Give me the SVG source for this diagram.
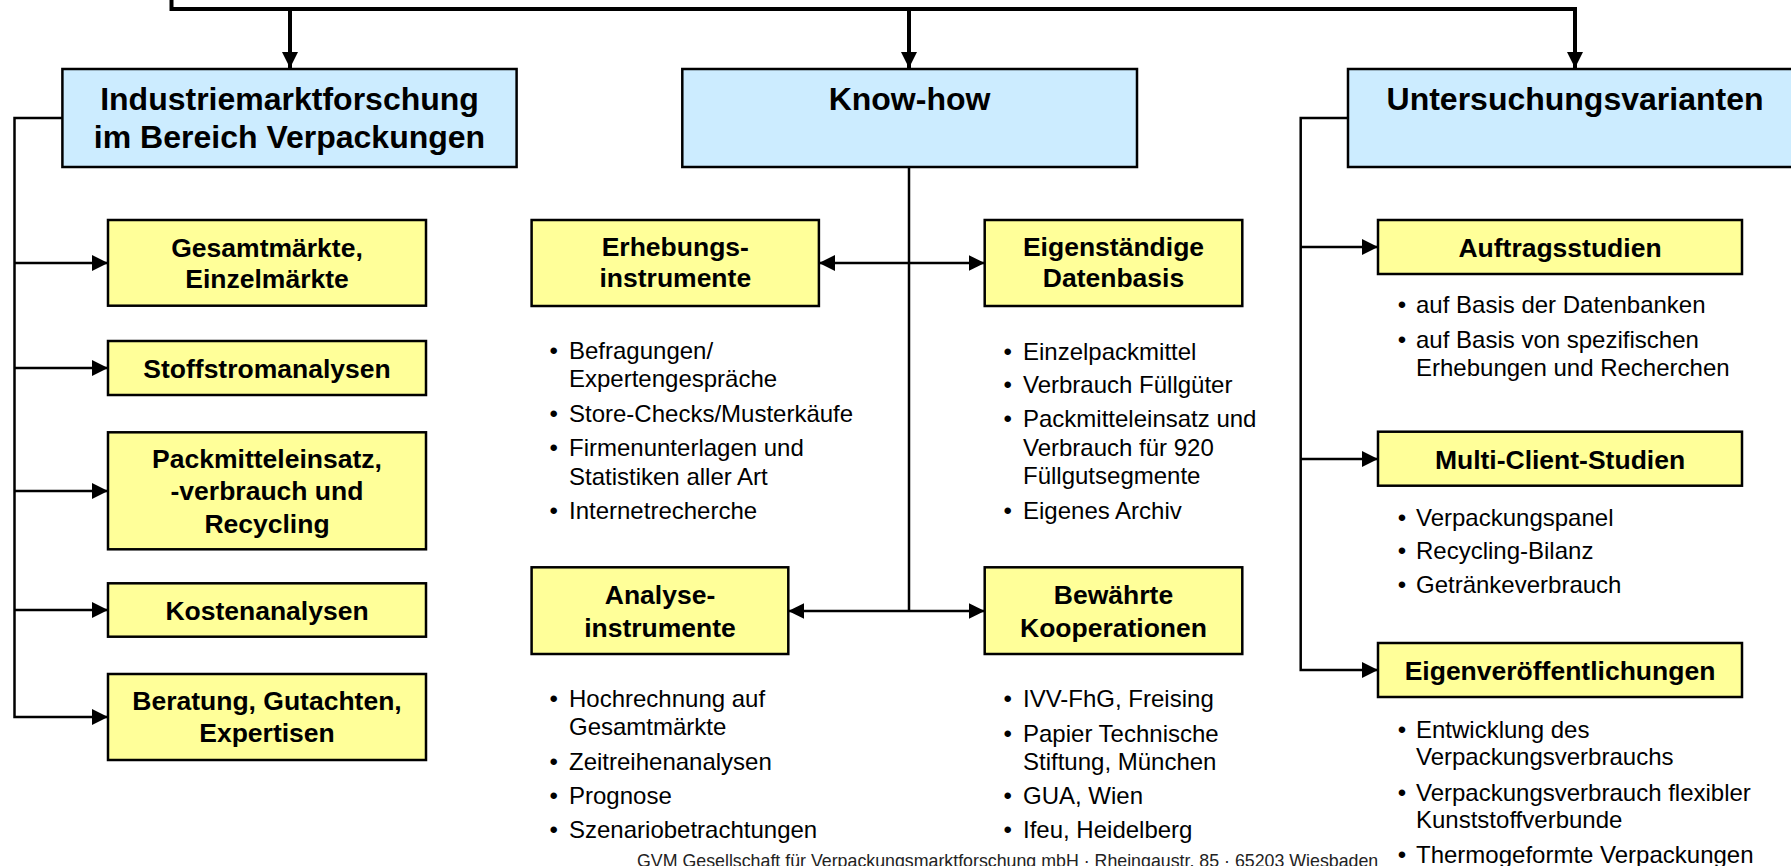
<svg xmlns="http://www.w3.org/2000/svg" width="1791" height="866" viewBox="0 0 1791 866">
<style>
text{font-family:"Liberation Sans",Arial,Helvetica,sans-serif;fill:#000}
.t{font-size:32px;font-weight:bold;text-anchor:middle}
.y{font-size:26.5px;font-weight:bold;text-anchor:middle}
.b{font-size:24px}
.d{font-size:24px;text-anchor:middle}
.f{font-size:17.8px;fill:#222}
.blue{fill:#CCECFF;stroke:#000;stroke-width:2.5}
.yel{fill:#FFFF99;stroke:#000;stroke-width:2.5}
.thick{fill:none;stroke:#000;stroke-width:4}
.thin{fill:none;stroke:#000;stroke-width:2.5}
</style>
<defs>
<marker id="ah" viewBox="0 0 16 16" refX="16" refY="8" markerWidth="16" markerHeight="16" markerUnits="userSpaceOnUse" orient="auto-start-reverse">
<path d="M0,0 L16,8 L0,16 z" fill="#000"/>
</marker>
</defs>
<rect width="1791" height="866" fill="#fff"/>
<g id="connectors">
<path class="thick" d="M171.5,0 V9 H1575 V68" marker-end="url(#ah)"/>
<path class="thick" d="M290,9 V68" marker-end="url(#ah)"/>
<path class="thick" d="M909,9 V68" marker-end="url(#ah)"/>
<path class="thin" d="M62,118 H14.5 V717 H108" marker-end="url(#ah)"/>
<path class="thin" d="M14.5,263 H108" marker-end="url(#ah)"/>
<path class="thin" d="M14.5,368 H108" marker-end="url(#ah)"/>
<path class="thin" d="M14.5,491 H108" marker-end="url(#ah)"/>
<path class="thin" d="M14.5,610 H108" marker-end="url(#ah)"/>
<path class="thin" d="M909,167 V611"/>
<path class="thin" d="M819,263 H984.7" marker-start="url(#ah)" marker-end="url(#ah)"/>
<path class="thin" d="M788.3,611 H984.7" marker-start="url(#ah)" marker-end="url(#ah)"/>
<path class="thin" d="M1348,118 H1300.7 V670 H1378" marker-end="url(#ah)"/>
<path class="thin" d="M1300.7,247 H1378" marker-end="url(#ah)"/>
<path class="thin" d="M1300.7,459 H1378" marker-end="url(#ah)"/>
</g>
<g id="n-industrie">
<rect class="blue" x="62.4" y="69" width="454.2" height="98"/>
<text class="t" x="289.5" y="110">Industriemarktforschung</text>
<text class="t" x="289.5" y="148">im Bereich Verpackungen</text>
</g>
<g id="n-knowhow">
<rect class="blue" x="682.3" y="69" width="454.7" height="98"/>
<text class="t" x="909.5" y="110">Know-how</text>
</g>
<g id="n-untersuchung">
<rect class="blue" x="1348" y="69" width="460" height="98"/>
<text class="t" x="1575" y="110">Untersuchungsvarianten</text>
</g>
<g id="n-gesamt">
<rect class="yel" x="108" y="220" width="318" height="85.7"/>
<text class="y" x="267" y="256.7">Gesamtmärkte,</text>
<text class="y" x="267" y="288.3">Einzelmärkte</text>
</g>
<g id="n-stoff">
<rect class="yel" x="108" y="341" width="318" height="54"/>
<text class="y" x="267" y="378.3">Stoffstromanalysen</text>
</g>
<g id="n-pack">
<rect class="yel" x="108" y="432.3" width="318" height="117"/>
<text class="y" x="267" y="468.3">Packmitteleinsatz,</text>
<text class="y" x="267" y="500">-verbrauch und</text>
<text class="y" x="267" y="533.3">Recycling</text>
</g>
<g id="n-kosten">
<rect class="yel" x="108" y="583.3" width="318" height="53.4"/>
<text class="y" x="267" y="620">Kostenanalysen</text>
</g>
<g id="n-beratung">
<rect class="yel" x="108" y="674" width="318" height="86"/>
<text class="y" x="267" y="710">Beratung, Gutachten,</text>
<text class="y" x="267" y="741.7">Expertisen</text>
</g>
<g id="n-erhebung">
<rect class="yel" x="531.6" y="220" width="287.3" height="86"/>
<text class="y" x="675.3" y="256">Erhebungs-</text>
<text class="y" x="675.3" y="287.3">instrumente</text>
<text class="d" x="553.6" y="359">•</text><text class="b" x="569" y="359">Befragungen/</text>
<text class="b" x="569" y="387">Expertengespräche</text>
<text class="d" x="553.6" y="422">•</text><text class="b" x="569" y="422">Store-Checks/Musterkäufe</text>
<text class="d" x="553.6" y="456">•</text><text class="b" x="569" y="456">Firmenunterlagen und</text>
<text class="b" x="569" y="485">Statistiken aller Art</text>
<text class="d" x="553.6" y="519">•</text><text class="b" x="569" y="519">Internetrecherche</text>
</g>
<g id="n-eigen">
<rect class="yel" x="984.7" y="220" width="257.6" height="86"/>
<text class="y" x="1113.5" y="256">Eigenständige</text>
<text class="y" x="1113.5" y="287.3">Datenbasis</text>
<text class="d" x="1007.6" y="360">•</text><text class="b" x="1023" y="360">Einzelpackmittel</text>
<text class="d" x="1007.6" y="393.3">•</text><text class="b" x="1023" y="393.3">Verbrauch Füllgüter</text>
<text class="d" x="1007.6" y="426.7">•</text><text class="b" x="1023" y="426.7">Packmitteleinsatz und</text>
<text class="b" x="1023" y="456">Verbrauch für 920</text>
<text class="b" x="1023" y="484.3">Füllgutsegmente</text>
<text class="d" x="1007.6" y="519.3">•</text><text class="b" x="1023" y="519.3">Eigenes Archiv</text>
</g>
<g id="n-analyse">
<rect class="yel" x="531.6" y="567.3" width="256.7" height="86.7"/>
<text class="y" x="660" y="604">Analyse-</text>
<text class="y" x="660" y="636.7">instrumente</text>
<text class="d" x="553.6" y="706.7">•</text><text class="b" x="569" y="706.7">Hochrechnung auf</text>
<text class="b" x="569" y="735">Gesamtmärkte</text>
<text class="d" x="553.6" y="770">•</text><text class="b" x="569" y="770">Zeitreihenanalysen</text>
<text class="d" x="553.6" y="804.3">•</text><text class="b" x="569" y="804.3">Prognose</text>
<text class="d" x="553.6" y="838.3">•</text><text class="b" x="569" y="838.3">Szenariobetrachtungen</text>
</g>
<g id="n-bewaehrt">
<rect class="yel" x="984.7" y="567.3" width="257.6" height="86.7"/>
<text class="y" x="1113.5" y="604">Bewährte</text>
<text class="y" x="1113.5" y="636.7">Kooperationen</text>
<text class="d" x="1007.6" y="706.7">•</text><text class="b" x="1023" y="706.7">IVV-FhG, Freising</text>
<text class="d" x="1007.6" y="742">•</text><text class="b" x="1023" y="742">Papier Technische</text>
<text class="b" x="1023" y="770">Stiftung, München</text>
<text class="d" x="1007.6" y="804.3">•</text><text class="b" x="1023" y="804.3">GUA, Wien</text>
<text class="d" x="1007.6" y="838.3">•</text><text class="b" x="1023" y="838.3">Ifeu, Heidelberg</text>
</g>
<g id="n-auftrag">
<rect class="yel" x="1378" y="220" width="364" height="54"/>
<text class="y" x="1560" y="256.7">Auftragsstudien</text>
<text class="d" x="1402" y="313">•</text><text class="b" x="1416" y="313">auf Basis der Datenbanken</text>
<text class="d" x="1402" y="348">•</text><text class="b" x="1416" y="348">auf Basis von spezifischen</text>
<text class="b" x="1416" y="376">Erhebungen und Recherchen</text>
</g>
<g id="n-multi">
<rect class="yel" x="1378" y="431.7" width="364" height="54"/>
<text class="y" x="1560" y="469">Multi-Client-Studien</text>
<text class="d" x="1402" y="525.7">•</text><text class="b" x="1416" y="525.7">Verpackungspanel</text>
<text class="d" x="1402" y="559">•</text><text class="b" x="1416" y="559">Recycling-Bilanz</text>
<text class="d" x="1402" y="593">•</text><text class="b" x="1416" y="593">Getränkeverbrauch</text>
</g>
<g id="n-eigenveroeff">
<rect class="yel" x="1378" y="643" width="364" height="54"/>
<text class="y" x="1560" y="680">Eigenveröffentlichungen</text>
<text class="d" x="1402" y="737.7">•</text><text class="b" x="1416" y="737.7">Entwicklung des</text>
<text class="b" x="1416" y="765">Verpackungsverbrauchs</text>
<text class="d" x="1402" y="800.7">•</text><text class="b" x="1416" y="800.7">Verpackungsverbrauch flexibler</text>
<text class="b" x="1416" y="828">Kunststoffverbunde</text>
<text class="d" x="1402" y="863">•</text><text class="b" x="1416" y="863">Thermogeformte Verpackungen</text>
</g>
<g id="footer">
<text class="f" x="637" y="867">GVM Gesellschaft für Verpackungsmarktforschung mbH · Rheingaustr. 85 · 65203 Wiesbaden</text>
</g>
</svg>
